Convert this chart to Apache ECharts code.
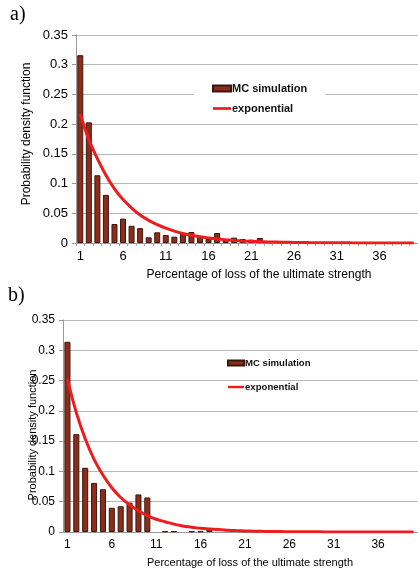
<!DOCTYPE html>
<html>
<head>
<meta charset="utf-8">
<script src="https://cdn.jsdelivr.net/npm/echarts@6/dist/echarts.min.js"></script>
<style>
html,body{margin:0;padding:0;background:#fff;}
#c{width:418px;height:575px;}
</style>
</head>
<body>
<div id="c"></div>
<script>
var categories = ['1','2','3','4','5','6','7','8','9','10','11','12','13','14','15','16','17','18','19','20','21','22','23','24','25','26','27','28','29','30','31','32','33','34','35','36','37','38','39','40'];
var yTicks = [0, 0.05, 0.1, 0.15, 0.2, 0.25, 0.3, 0.35];

// panel a)
var mcA = [0.316,0.203,0.114,0.081,0.032,0.041,0.029,0.025,0.0095,0.018,0.0134,0.0106,0.016,0.0185,0.0118,0.0067,0.0168,0.006,0.009,0.0067,0.0056,0.0084,null,null,null,null,null,null,null,null,null,null,null,null,null,null,null,null,null,null];
var expA = [0.217,0.174,0.142,0.114,0.091,0.073,0.059,0.047,0.038,0.031,0.025,0.020,0.016,0.013,0.0105,0.0085,0.0068,0.0055,0.0044,0.0035,0.0028,0.0023,0.0018,0.0015,0.0012,0.001,0.0008,0.0006,0.0005,0.0004,0.0003,0.0003,0.0002,0.0002,0.0001,0.0001,0.0001,0.0001,0.0001,0.0001];

// panel b)
var mcB = [0.314,0.1615,0.106,0.081,0.0706,0.040,0.0425,0.0485,0.062,0.057,null,0.0012,0.0012,null,0.0012,0.0012,0.0066,null,null,null,null,null,null,null,null,null,null,null,null,null,null,null,null,null,null,null,null,null,null,null];
var expB = [0.253,0.197,0.154,0.120,0.094,0.073,0.057,0.045,0.035,0.027,0.021,0.017,0.013,0.010,0.008,0.006,0.005,0.004,0.003,0.0023,0.0018,0.0014,0.0011,0.0009,0.0007,0.0005,0.0004,0.0003,0.0003,0.0002,0.0002,0.0001,0.0001,0.0001,0.0001,0.0001,0.0001,0.0001,0.0001,0.0001];

var seriesNames = ['MC simulation', 'exponential'];
var xTitle = 'Percentage of loss of the ultimate strength';
var yTitle = 'Probability density function';

var FONT = 'Liberation Sans, Arial, sans-serif';
var BAR = '#8c2d1c', BARB = '#3a160e', RED = '#ee1c1c', GRID = '#b8b8b8';

function xAxis(gi, fs, showTicks, margin) {
  return {
    type: 'category', gridIndex: gi, data: categories, boundaryGap: true,
    axisLine: {lineStyle: {color: '#999', width: 1}},
    axisTick: {show: showTicks, interval: 0, length: 3, lineStyle: {color: '#aaa'}},
    axisLabel: {interval: 4, color: '#000', fontSize: fs, fontFamily: FONT, margin: margin}
  };
}
function yAxis(gi, fs) {
  return {
    type: 'value', gridIndex: gi, min: 0, max: 0.35, interval: 0.05,
    axisLine: {show: true, lineStyle: {color: '#999'}},
    axisTick: {show: true, length: 4, lineStyle: {color: '#999'}},
    splitLine: {lineStyle: {color: GRID, width: 1}},
    axisLabel: {color: '#000', fontSize: fs, fontFamily: FONT, margin: 8,
      formatter: function (v) { return String(+v.toFixed(2)); }}
  };
}
function barSeries(i, data, gap) {
  return {name: seriesNames[0], type: 'bar', xAxisIndex: i, yAxisIndex: i, data: data,
    barCategoryGap: gap, itemStyle: {color: BAR, borderColor: BARB, borderWidth: 1}, z: 2};
}
function lineSeries(i, data) {
  return {name: seriesNames[1], type: 'line', xAxisIndex: i, yAxisIndex: i, data: data,
    smooth: 0.4, symbol: 'none', lineStyle: {color: RED, width: 3}, itemStyle: {color: RED}, z: 3};
}
function legendData() {
  return [
    {name: seriesNames[0], icon: 'rect'},
    {name: seriesNames[1], icon: 'path://M0,0H20V3H0Z', itemStyle: {color: RED, borderWidth: 0}}
  ];
}

var chart = echarts.init(document.getElementById('c'), null, {renderer: 'canvas'});
chart.setOption({
  animation: false,
  backgroundColor: '#fff',
  grid: [
    {left: 76, top: 35, width: 346, height: 208},
    {left: 63, top: 320, width: 358, height: 212}
  ],
  xAxis: [xAxis(0, 13, true, 7), xAxis(1, 12, false, 7)],
  yAxis: [yAxis(0, 13), yAxis(1, 12)],
  legend: [
    {data: legendData(), orient: 'vertical', left: 194, top: 78, padding: [5, 18, 5, 18],
      backgroundColor: '#fff', itemWidth: 18, itemHeight: 6, itemGap: 9, selectedMode: false,
      textStyle: {fontFamily: FONT, fontSize: 11, fontWeight: 'bold', color: '#111', padding: [0, 0, 0, -4]}},
    {data: legendData(), orient: 'vertical', left: 227, top: 358, padding: 0,
      itemWidth: 16, itemHeight: 5, itemGap: 14, selectedMode: false,
      textStyle: {fontFamily: FONT, fontSize: 9.6, fontWeight: 'bold', color: '#111', padding: [0, 0, 0, -4]}}
  ],
  graphic: [
    {type: 'text', left: 10, top: 5, style: {text: 'a)', font: '20px "Liberation Serif", serif', fill: '#000'}},
    {type: 'text', left: 8, top: 286, style: {text: 'b)', font: '20px "Liberation Serif", serif', fill: '#000'}},
    {type: 'text', x: 259, y: 275, style: {text: xTitle, font: '12px ' + FONT, fill: '#000', align: 'center', verticalAlign: 'middle'}},
    {type: 'text', x: 250, y: 563, style: {text: xTitle, font: '11px ' + FONT, fill: '#000', align: 'center', verticalAlign: 'middle'}},
    {type: 'text', x: 27, y: 134, rotation: Math.PI / 2, style: {text: yTitle, font: '12px ' + FONT, fill: '#000', align: 'center', verticalAlign: 'middle'}},
    {type: 'text', x: 33, y: 435, rotation: Math.PI / 2, style: {text: yTitle, font: '11px ' + FONT, fill: '#000', align: 'center', verticalAlign: 'middle'}}
  ],
  series: [
    barSeries(0, mcA, '30%'), lineSeries(0, expA),
    barSeries(1, mcB, '32%'), lineSeries(1, expB)
  ]
});
</script>
</body>
</html>
